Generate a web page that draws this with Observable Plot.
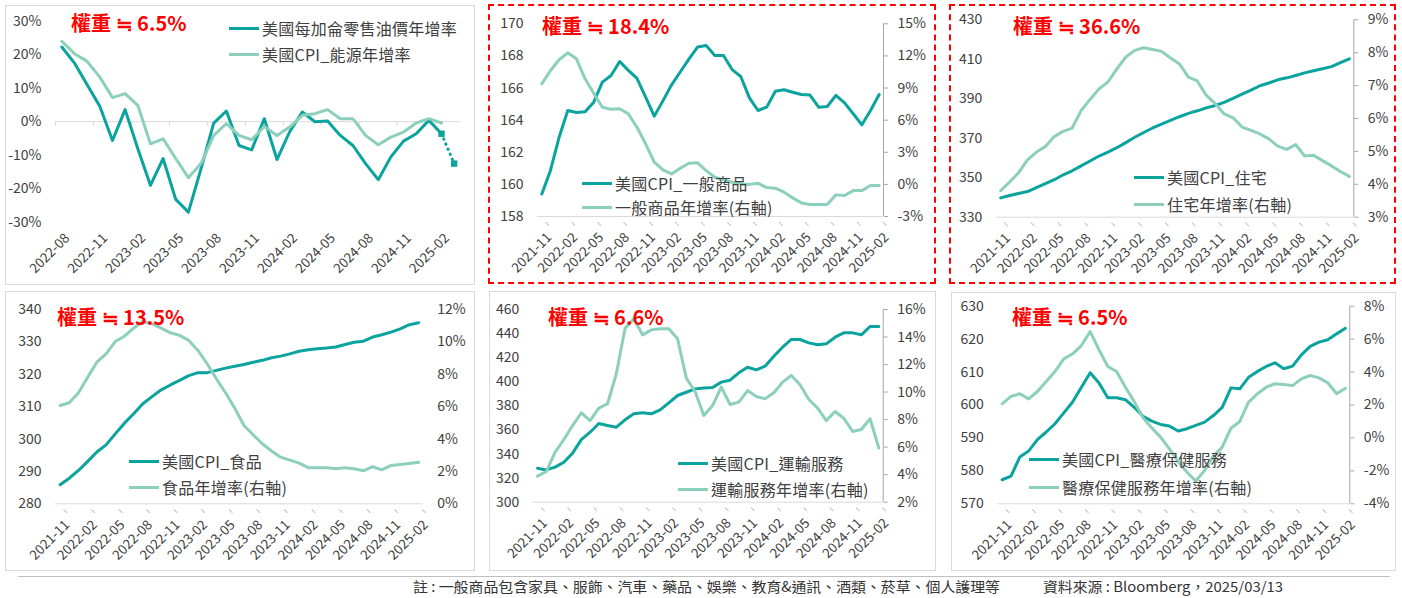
<!DOCTYPE html>
<html>
<head>
<meta charset="utf-8">
<script src="https://cdn.jsdelivr.net/npm/d3@7"></script>
<script src="https://cdn.jsdelivr.net/npm/@observablehq/plot@0.6"></script>
<style>
  body { margin:0; background:#fff; }
  #root { position:relative; width:1402px; height:598px; background:#fff; overflow:hidden;
          font-family:"Noto Sans CJK TC","Noto Sans",sans-serif; color:#404040; }
  .box { position:absolute; box-sizing:border-box; }
  .plot { position:absolute; }
  .leg { position:absolute; display:flex; align-items:center; height:22px; font-size:16px; letter-spacing:0.25px; color:#404040; white-space:nowrap; }
  .leg .sw { display:inline-block; width:30px; height:3px; margin-right:3px; }
  .wt { position:absolute; color:#ff0000; font-weight:bold; font-size:20px; line-height:24px; white-space:nowrap; }
</style>
</head>
<body>
<div id="root"></div>
<script>
// ---------- data ----------
const DARK = "#0aa39e", LIGHT = "#8ccfba";

// Panel 1: 2022-08 .. 2025-03 (monthly)
const p1Ticks = ["2022-08","2022-11","2023-02","2023-05","2023-08","2023-11","2024-02","2024-05","2024-08","2024-11","2025-02"];
const gasYoY = [22.3,17.5,11,4.6,-5.6,3.6,-8,-19,-11,-23.2,-27,-14,-0.4,3.2,-7.1,-8.4,0.9,-11.3,-3,2.9,0,0.2,-4.1,-7.1,-12.5,-17.3,-10.5,-5.8,-3.6,0.4,-3.6];
const gasProjected = -12.5; // 2025-03
const energyYoY = [24,20.3,18,13.3,7.2,8.4,4.9,-6.6,-5.1,-11,-16.7,-12.5,-4.1,-0.6,-4.1,-5.4,-1.4,-4.1,-1.6,1.9,2.4,3.6,0.9,0.9,-4.1,-6.9,-4.6,-3.1,-0.4,0.9,-0.4];

// Panels 2-6: 2021-11 .. 2025-02 (monthly)
const mTicks = ["2021-11","2022-02","2022-05","2022-08","2022-11","2023-02","2023-05","2023-08","2023-11","2024-02","2024-05","2024-08","2024-11","2025-02"];

const goodsIdx = [159.4,160.87,162.94,164.6,164.48,164.52,165.12,166.37,166.78,167.65,167.1,166.6,165.43,164.25,165.2,166.2,167.0,167.8,168.55,168.65,168.03,168.03,167.15,166.72,165.39,164.6,164.81,165.8,165.89,165.74,165.6,165.56,164.81,164.85,165.54,165.08,164.4,163.71,164.6,165.6];
const goodsYoY = [9.39,10.64,11.64,12.29,11.73,9.86,8.52,7.21,7.02,7.06,6.59,5.34,3.79,2.07,1.36,0.98,1.51,1.98,2.01,1.29,0.67,0.42,0.2,0.05,0,0.1,-0.3,-0.36,-0.73,-1.26,-1.73,-1.88,-1.88,-1.88,-0.98,-1.04,-0.58,-0.58,-0.1,-0.1];

const housingIdx = [339.8,341.0,342.0,343.0,345.0,347.0,349.0,351.5,353.5,356.0,358.5,361.0,363.0,365.2,367.8,370.5,372.9,375.2,377.2,379.0,380.9,382.6,383.9,385.4,386.6,388.2,390.2,392.3,394.4,396.6,398.0,399.6,400.6,401.8,403.1,404.2,405.2,406.3,408.3,410.2];
const housingYoY = [3.81,4.07,4.35,4.74,4.98,5.15,5.45,5.61,5.71,6.24,6.58,6.90,7.11,7.51,7.87,8.07,8.15,8.10,8.04,7.84,7.66,7.26,7.14,6.70,6.45,6.14,6.02,5.74,5.64,5.53,5.38,5.16,5.06,5.21,4.86,4.88,4.72,4.56,4.39,4.24];

const foodIdx = [285.9,287.9,290.3,293.1,296.0,298.2,301.6,304.9,307.8,310.9,313.1,315.2,316.7,318.1,319.6,320.5,320.5,321.2,321.9,322.5,323.0,323.7,324.3,325.1,325.6,326.3,327.1,327.6,327.9,328.1,328.4,329.2,329.9,330.2,331.5,332.2,333.0,334.0,335.3,335.9];
const foodYoY = [6.07,6.24,6.86,7.82,8.75,9.26,10.02,10.35,10.85,11.26,11.12,10.85,10.56,10.40,10.09,9.47,8.65,7.72,6.86,5.91,4.84,4.26,3.71,3.26,2.88,2.70,2.51,2.23,2.23,2.23,2.16,2.23,2.16,2.04,2.29,2.10,2.37,2.43,2.49,2.56];

const transIdx = [328.2,326.8,329.1,333.2,340.7,352.0,358.1,365.3,363.7,362.3,368.4,373.4,374.2,373.4,376.7,382.5,388.6,391.3,394.1,394.9,395.2,399.7,401.3,407.4,412.1,409.9,412.9,421.2,428.7,435.1,435.1,432.3,430.7,431.5,437.0,440.6,440.6,439.0,445.9,445.9];
const transYoY = [3.89,4.23,5.63,6.55,7.57,8.49,7.93,8.83,9.15,11.33,14.64,15.32,14.16,14.52,14.60,14.60,13.87,11.01,10.04,8.30,9.02,10.36,9.10,9.27,10.11,9.68,9.51,9.95,10.72,11.20,10.53,9.46,8.83,7.93,8.59,8.10,7.14,7.28,8.06,5.93];

const medIdx = [577.3,578.4,584.2,586.0,589.5,591.8,594.3,597.6,600.9,605.4,609.8,606.7,602.2,602.2,601.6,599.3,596.6,595.1,594.1,593.6,592.1,592.8,593.8,594.8,596.8,599.3,605.2,604.9,608.4,610.2,611.7,612.8,611.0,611.8,615.2,617.8,619.1,619.8,621.6,623.3];
const medYoY = [2.07,2.52,2.68,2.37,2.82,3.43,4.03,4.80,5.11,5.61,6.46,5.35,4.34,4.03,3.08,2.21,1.22,0.61,0.05,-0.66,-1.43,-2.08,-2.62,-1.98,-1.11,-0.56,0.59,1.00,2.17,2.68,3.08,3.29,3.24,3.18,3.59,3.79,3.65,3.35,2.68,3.02];

const weights = ["權重 ≒ 6.5%","權重 ≒ 18.4%","權重 ≒ 36.6%","權重 ≒ 13.5%","權重 ≒ 6.6%","權重 ≒ 6.5%"];
const legendNames = [
  ["美國每加侖零售油價年增率","美國CPI_能源年增率"],
  ["美國CPI_一般商品","一般商品年增率(右軸)"],
  ["美國CPI_住宅","住宅年增率(右軸)"],
  ["美國CPI_食品","食品年增率(右軸)"],
  ["美國CPI_運輸服務","運輸服務年增率(右軸)"],
  ["美國CPI_醫療保健服務","醫療保健服務年增率(右軸)"]
];
const noteText = "註 : 一般商品包含家具、服飾、汽車、藥品、娛樂、教育&通訊、酒類、菸草、個人護理等";
const sourceText = "資料來源 : Bloomberg，2025/03/13";

// ---------- layout ----------
const FONT = '"Noto Sans CJK TC","Noto Sans",sans-serif';
const root = document.getElementById("root");
const range = (a, b, s) => d3.range(a, b + s / 2, s);

function addBox(x, y, w, h, red) {
  const d = document.createElement("div");
  d.className = "box";
  Object.assign(d.style, {left: x + "px", top: y + "px", width: w + "px", height: h + "px",
    border: red ? "2px dashed #ff0000" : "1px solid #d9d9d9"});
  root.appendChild(d);
}
function addWeight(text, x, y) {
  const d = document.createElement("div");
  d.className = "wt"; d.textContent = text;
  d.style.left = x + "px"; d.style.top = (y - 12) + "px";
  root.appendChild(d);
}
function addLegend(names, x, y1, y2) {
  [[names[0], DARK, y1], [names[1], LIGHT, y2]].forEach(([t, c, y]) => {
    const d = document.createElement("div");
    d.className = "leg";
    d.style.left = x + "px"; d.style.top = (y - 11) + "px";
    d.innerHTML = `<span class="sw" style="background:${c}"></span><span>${t}</span>`;
    root.appendChild(d);
  });
}
function place(svg, x, y) {
  svg.classList.add("plot");
  svg.style.left = x + "px"; svg.style.top = y + "px";
  root.appendChild(svg);
}

const axisText = {fill: "#404040", fontSize: 14, label: null};
function xLabelsAxis(tickLabels, step, tickSize) {
  return Plot.axisX(tickLabels.map((_, k) => k * step), {
    anchor: "bottom", tickSize, stroke: "#bfbfbf", label: null,
    tickFormat: (d) => tickLabels[d / step], rotate: -45, textAnchor: "end",
    tickPadding: 4, dx: 8, dy: 6, fill: "#404040", fontSize: 13.5
  });
}

// Panel with dual axes
function dualPanel(cfg) {
  const n = cfg.dark.length;
  const [l0, l1] = cfg.left, [r0, r1] = cfg.right;
  const toL = (v) => l0 + (v - r0) / (r1 - r0) * (l1 - l0);
  const fromL = (y) => r0 + (y - l0) / (l1 - l0) * (r1 - r0);
  const dark = cfg.dark.map((v, i) => ({x: i + 0.5, y: v}));
  const light = cfg.light.map((v, i) => ({x: i + 0.5, y: toL(v)}));
  const marks = [
    Plot.ruleY([l0], {stroke: "#d9d9d9"}),
    xLabelsAxis(mTicks, 3, 5),
    Plot.axisY(range(l0, l1, cfg.lstep), {anchor: "left", tickSize: 0, tickPadding: 14, ...axisText}),
    Plot.axisY(range(r0, r1, cfg.rstep).map(toL), {anchor: "right", tickSize: cfg.rline ? 4 : 0,
      tickPadding: cfg.rline ? 10 : 14, stroke: "#a6a6a6",
      tickFormat: (y) => Math.round(fromL(y)) + "%", ...axisText}),
  ];
  if (cfg.rline) marks.push(Plot.ruleX([n], {stroke: "#a6a6a6"}));
  marks.push(
    Plot.line(dark, {x: "x", y: "y", stroke: DARK, strokeWidth: 3}),
    Plot.line(light, {x: "x", y: "y", stroke: LIGHT, strokeWidth: 3})
  );
  return Plot.plot({
    width: cfg.w, height: cfg.h,
    marginLeft: cfg.m[0], marginRight: cfg.m[1], marginTop: cfg.m[2], marginBottom: cfg.m[3],
    x: {domain: [0, n], label: null}, y: {domain: [l0, l1], label: null},
    style: {fontFamily: FONT, fontSize: "14px", background: "transparent", overflow: "visible"},
    marks
  });
}

// ---------- Panel 1 ----------
addBox(5, 5, 470, 280, false);
{
  const n = gasYoY.length + 1;
  const gas = gasYoY.map((v, i) => ({x: i + 0.5, y: v}));
  const energy = energyYoY.map((v, i) => ({x: i + 0.5, y: v}));
  const last = gas[gas.length - 1];
  const proj = [last, {x: gasYoY.length + 0.5, y: gasProjected}];
  const svg = Plot.plot({
    width: 470, height: 280, marginLeft: 50, marginRight: 15, marginTop: 15.7, marginBottom: 63.3,
    x: {domain: [0, n], label: null}, y: {domain: [-30, 30], label: null},
    style: {fontFamily: FONT, fontSize: "14px", background: "transparent", overflow: "visible"},
    marks: [
      Plot.ruleY([0], {stroke: "#d9d9d9"}),
      Plot.ruleX(range(0, 30, 3), {x: (d) => d, y1: 0, y2: -1.3, stroke: "#d9d9d9"}),
      xLabelsAxis(p1Ticks, 3, 0),
      Plot.axisY(range(-30, 30, 10), {anchor: "left", tickSize: 0, tickPadding: 14,
        tickFormat: (d) => d + "%", ...axisText}),
      Plot.line(gas, {x: "x", y: "y", stroke: DARK, strokeWidth: 3}),
      Plot.line(energy, {x: "x", y: "y", stroke: LIGHT, strokeWidth: 3}),
      Plot.line(proj, {x: "x", y: "y", stroke: DARK, strokeWidth: 3, strokeDasharray: "0.5 5", strokeLinecap: "round"}),
      Plot.dot(proj, {x: "x", y: "y", symbol: "square", r: 3.6, fill: DARK, stroke: "none"})
    ]
  });
  place(svg, 5, 5);
}
addWeight(weights[0], 71, 23);
addLegend(legendNames[0], 229, 28, 54);

// ---------- Panel 2 ----------
place(dualPanel({w: 448, h: 280, m: [49, 53, 19.3, 68], dark: goodsIdx, light: goodsYoY,
  left: [158, 170], lstep: 2, right: [-3, 15], rstep: 3, rline: true}), 488, 4);
addBox(488, 4, 448, 280, true);
addWeight(weights[1], 542, 26);
addLegend(legendNames[1], 582, 183, 207);

// ---------- Panel 3 ----------
place(dualPanel({w: 447, h: 280, m: [46.7, 42.7, 15.3, 67.3], dark: housingIdx, light: housingYoY,
  left: [330, 430], lstep: 20, right: [3, 9], rstep: 1, rline: true}), 949, 4);
addBox(949, 4, 447, 280, true);
addWeight(weights[2], 1013, 26);
addLegend(legendNames[2], 1134, 177, 204);

// ---------- Panel 4 ----------
addBox(5, 291, 470, 280, false);
place(dualPanel({w: 470, h: 280, m: [50, 52.3, 18, 67.7], dark: foodIdx, light: foodYoY,
  left: [280, 340], lstep: 10, right: [0, 12], rstep: 2, rline: false}), 5, 291);
addWeight(weights[3], 57, 317);
addLegend(legendNames[3], 129, 461, 487);

// ---------- Panel 5 ----------
addBox(489, 291, 447, 280, false);
place(dualPanel({w: 447, h: 280, m: [43.7, 53.3, 18, 69.3], dark: transIdx, light: transYoY,
  left: [300, 460], lstep: 20, right: [2, 16], rstep: 2, rline: true}), 489, 291);
addWeight(weights[4], 548, 317);
addLegend(legendNames[4], 678, 463, 489);

// ---------- Panel 6 ----------
addBox(951, 292, 445, 279, false);
place(dualPanel({w: 445, h: 279, m: [46.3, 46.7, 13.7, 67.7], dark: medIdx, light: medYoY,
  left: [570, 630], lstep: 10, right: [-4, 8], rstep: 2, rline: true}), 951, 292);
addWeight(weights[5], 1012, 317);
addLegend(legendNames[5], 1029, 459, 487);

// ---------- footer ----------
{
  const ns = "http://www.w3.org/2000/svg";
  const svg = document.createElementNS(ns, "svg");
  svg.setAttribute("width", 1402); svg.setAttribute("height", 26);
  Object.assign(svg.style, {position: "absolute", left: "0px", top: "572px"});
  const line = document.createElementNS(ns, "line");
  line.setAttribute("x1", 18); line.setAttribute("x2", 1390);
  line.setAttribute("y1", 4.5); line.setAttribute("y2", 4.5);
  line.setAttribute("stroke", "#bfbfbf");
  svg.appendChild(line);
  [[noteText, 413, 587], [sourceText, 1043, 240]].forEach(([t, x, len]) => {
    const tx = document.createElementNS(ns, "text");
    tx.textContent = t;
    tx.setAttribute("x", x); tx.setAttribute("y", 20);
    tx.setAttribute("textLength", len); tx.setAttribute("lengthAdjust", "spacingAndGlyphs");
    tx.setAttribute("font-size", 14); tx.setAttribute("fill", "#333");
    tx.setAttribute("font-family", FONT);
    svg.appendChild(tx);
  });
  root.appendChild(svg);
}
</script>
</body>
</html>
